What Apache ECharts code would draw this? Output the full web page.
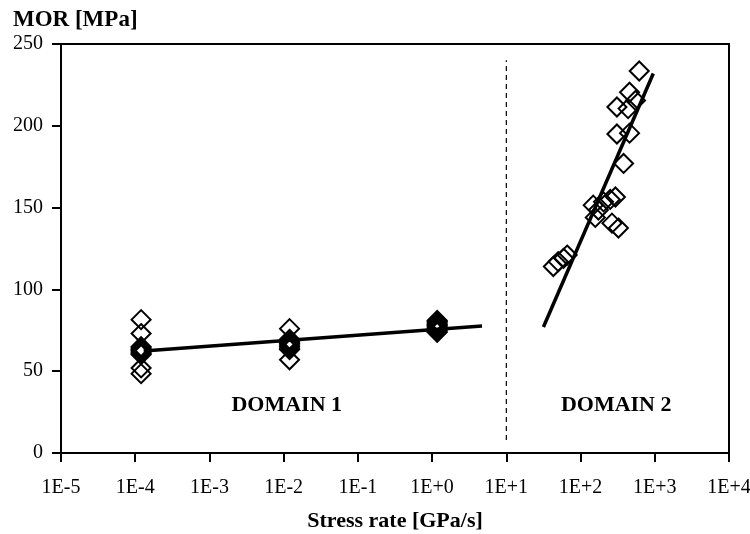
<!DOCTYPE html>
<html>
<head>
<meta charset="utf-8">
<title>MOR vs stress rate</title>
<script src="https://cdn.jsdelivr.net/npm/echarts@6/dist/echarts.min.js"></script>
<style>
  html, body { margin: 0; padding: 0; background: #fff; }
  #chart { width: 750px; height: 534px; }
</style>
</head>
<body>
<div id="chart"></div>
<script>
// Domain 1: slow loading, three stress-rate levels (GPa/s) and measured MOR (MPa)
const domain1Rate = [
  1.2e-4, 1.2e-4, 1.2e-4, 1.2e-4, 1.2e-4, 1.2e-4, 1.2e-4, 1.2e-4, 1.2e-4, 1.2e-4, 1.2e-4,
  1.2e-2, 1.2e-2, 1.2e-2, 1.2e-2, 1.2e-2, 1.2e-2, 1.2e-2, 1.2e-2, 1.2e-2, 1.2e-2,
  1.17, 1.17, 1.17, 1.17, 1.17, 1.17, 1.17, 1.17, 1.17, 1.17
];
const domain1Mor = [
  81.5, 73, 65, 64.2, 63.4, 62.6, 61.8, 61, 60.2, 52, 48.5,
  76, 69.5, 68.6, 67.8, 67, 66, 65, 64, 63.2, 57,
  81, 80.2, 79.4, 78.6, 77.8, 77, 76.2, 75.4, 74.6, 73.8
];

// Domain 2: fast loading
const domain2Rate = [
  43, 50, 59, 66,
  148, 158, 174, 204, 251, 295,
  265, 324,
  380, 309, 457,
  309, 437, 550, 457, 617
];
const domain2Mor = [
  114, 117, 119, 121,
  151.5, 144, 148.5, 153.5, 155, 156.5,
  140.5, 137.5,
  177, 195, 195.5,
  211.5, 210.5, 215.5, 220.5, 233.5
];

// Fitted trend lines (end points)
const fit1Rate = [1.3e-4, 4.7];
const fit1Mor = [62.3, 77.6];
const fit2Rate = [31.6, 955];
const fit2Mor = [77, 232];

// Boundary between the two domains
const boundaryRate = 10;
const boundaryMor = [8, 240];

// Domain captions
const domainLabels = ['DOMAIN 1', 'DOMAIN 2'];
const domainLabelRate = [1.1e-2, 302];
const domainLabelMor = [29, 29];

const zip = (xs, ys) => xs.map((x, i) => [x, ys[i]]);
const serif = 'Liberation Serif';

function expLabel(v) {
  const e = Math.round(Math.log10(v));
  return '1E' + (e < 0 ? '-' : '+') + Math.abs(e);
}

const diamondStyle = {
  color: 'rgba(0,0,0,0)',
  borderColor: '#000',
  borderWidth: 2,
  opacity: 1
};

const chart = echarts.init(document.getElementById('chart'), null, { renderer: 'canvas' });
chart.setOption({
  animation: false,
  backgroundColor: '#fff',
  title: {
    text: 'MOR [MPa]',
    left: 8,
    top: 4,
    textStyle: { fontFamily: serif, fontSize: 23, fontWeight: 'bold', color: '#000' }
  },
  grid: {
    left: 61, right: 21, top: 44, bottom: 81,
    outerBoundsMode: 'none',
    containLabel: false,
    show: true, borderColor: '#000', borderWidth: 2, backgroundColor: 'rgba(0,0,0,0)'
  },
  xAxis: {
    type: 'log',
    logBase: 10,
    min: 1e-5,
    max: 1e4,
    splitNumber: 9,
    name: 'Stress rate [GPa/s]',
    nameLocation: 'middle',
    nameGap: 57,
    nameTextStyle: { fontFamily: serif, fontSize: 22, fontWeight: 'bold', color: '#000' },
    axisLine: { show: true, lineStyle: { color: '#000', width: 2 } },
    axisTick: { show: true, inside: false, length: 9, lineStyle: { color: '#000', width: 2 } },
    minorTick: { show: false },
    splitLine: { show: false },
    axisLabel: {
      fontFamily: serif, fontSize: 20, color: '#000', margin: 25,
      formatter: expLabel
    }
  },
  yAxis: {
    type: 'value',
    min: 0,
    max: 250,
    interval: 50,
    axisLine: { show: true, lineStyle: { color: '#000', width: 2 } },
    axisTick: { show: true, inside: false, length: 9, lineStyle: { color: '#000', width: 2 } },
    splitLine: { show: false },
    axisLabel: { fontFamily: serif, fontSize: 20, color: '#000', margin: 18 }
  },
  series: [
    {
      name: 'Domain 1',
      type: 'scatter',
      symbol: 'diamond',
      symbolSize: 19,
      itemStyle: diamondStyle,
      data: zip(domain1Rate, domain1Mor),
      z: 3
    },
    {
      name: 'Domain 2',
      type: 'scatter',
      symbol: 'diamond',
      symbolSize: 19,
      itemStyle: diamondStyle,
      data: zip(domain2Rate, domain2Mor),
      z: 3
    },
    {
      name: 'Fit 1',
      type: 'line',
      showSymbol: false,
      symbol: 'none',
      lineStyle: { color: '#000', width: 3.5 },
      data: zip(fit1Rate, fit1Mor),
      z: 4
    },
    {
      name: 'Fit 2',
      type: 'line',
      showSymbol: false,
      symbol: 'none',
      lineStyle: { color: '#000', width: 3.5 },
      data: zip(fit2Rate, fit2Mor),
      z: 4
    },
    {
      name: 'Boundary',
      type: 'line',
      showSymbol: false,
      symbol: 'none',
      lineStyle: { color: '#000', width: 1.2, type: [5, 4] },
      data: boundaryMor.map(v => [boundaryRate, v]),
      z: 2
    },
    {
      name: 'Domains',
      type: 'scatter',
      symbol: 'circle',
      symbolSize: 1,
      itemStyle: { color: 'rgba(0,0,0,0)', opacity: 1 },
      data: zip(domainLabelRate, domainLabelMor).map((p, i) => ({ value: p, name: domainLabels[i] })),
      label: {
        show: true,
        position: 'inside',
        formatter: p => p.name,
        fontFamily: serif, fontSize: 22, fontWeight: 'bold', color: '#000'
      },
      z: 5
    }
  ]
});
</script>
</body>
</html>
